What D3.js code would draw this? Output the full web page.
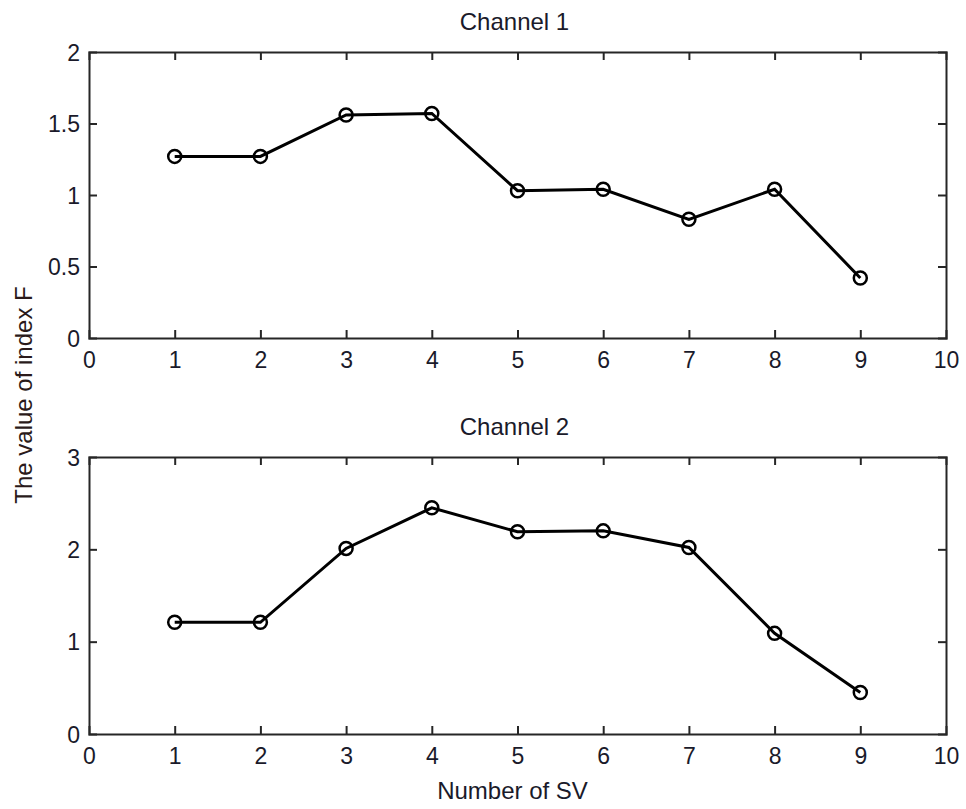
<!DOCTYPE html>
<html>
<head>
<meta charset="utf-8">
<script src="https://cdn.jsdelivr.net/npm/d3@7"></script>
<style>
  html, body { margin: 0; padding: 0; background: #fff; }
  svg { display: block; font-family: "Liberation Sans", Arial, sans-serif; }
</style>
</head>
<body>
<div id="chart"></div>
<script>
// data
const svIndex = [1, 2, 3, 4, 5, 6, 7, 8, 9];
const channel1 = [1.27, 1.27, 1.56, 1.57, 1.03, 1.04, 0.83, 1.04, 0.42];
const channel2 = [1.21, 1.21, 2.01, 2.45, 2.19, 2.20, 2.02, 1.09, 0.45];
const xTicks = [0, 1, 2, 3, 4, 5, 6, 7, 8, 9, 10];
const yTicks1 = [0, 0.5, 1, 1.5, 2];
const yTicks2 = [0, 1, 2, 3];

const W = 966, H = 809;
const LEFT = 89, RIGHT = 946;
const TEXT = '#1a1a2a';

const svg = d3.select('#chart').append('svg')
  .attr('width', W).attr('height', H);

const x = d3.scaleLinear().domain([0, 10]).range([LEFT, RIGHT]);

function panel(top, bottom, yMax, yTicks, values, title) {
  const y = d3.scaleLinear().domain([0, yMax]).range([bottom, top]);
  const g = svg.append('g');
  const tickLen = 8;

  // bottom axis (ticks inward)
  const xb = g.append('g').attr('transform', `translate(0,${bottom})`)
    .call(d3.axisBottom(x).tickValues(xTicks).tickSize(-tickLen).tickFormat(d3.format('d')));
  xb.selectAll('text').attr('y', 30).attr('dy', 0);
  // top axis, ticks only
  const xt = g.append('g').attr('transform', `translate(0,${top})`)
    .call(d3.axisTop(x).tickValues(xTicks).tickSize(-tickLen).tickFormat(''));
  // left axis
  const yl = g.append('g').attr('transform', `translate(${LEFT},0)`)
    .call(d3.axisLeft(y).tickValues(yTicks).tickSize(-tickLen).tickFormat(d => d));
  yl.selectAll('text').attr('x', -9).attr('dy', '0.36em');
  // right axis, ticks only
  const yr = g.append('g').attr('transform', `translate(${RIGHT},0)`)
    .call(d3.axisRight(y).tickValues(yTicks).tickSize(-tickLen).tickFormat(''));

  [xb, xt, yl, yr].forEach(a => {
    a.selectAll('.domain').attr('stroke', '#262626').attr('stroke-width', 2);
    a.selectAll('line').attr('stroke', '#262626').attr('stroke-width', 2);
    a.selectAll('text').attr('font-size', '23px').attr('fill', TEXT)
      .attr('font-family', '"Liberation Sans", Arial, sans-serif');
  });
  // drop end ticks that sit on the frame
  [xb, xt].forEach(a => a.selectAll('.tick line').filter(d => d === 0 || d === 10).remove());
  [yl, yr].forEach(a => a.selectAll('.tick line').filter(d => d === 0 || d === yMax).remove());

  const line = d3.line().x((d, i) => x(svIndex[i])).y(d => y(d));
  g.append('path').datum(values)
    .attr('d', line)
    .attr('fill', 'none')
    .attr('stroke', '#000')
    .attr('stroke-width', 3);

  g.selectAll('.pt').data(values).enter().append('circle')
    .attr('cx', (d, i) => x(svIndex[i]))
    .attr('cy', d => y(d))
    .attr('r', 6.5)
    .attr('fill', 'none')
    .attr('stroke', '#000')
    .attr('stroke-width', 2.5);

  svg.append('text')
    .attr('x', (LEFT + RIGHT) / 2 - 3)
    .attr('y', top - 22)
    .attr('text-anchor', 'middle')
    .attr('font-size', '24px')
    .attr('fill', TEXT)
    .text(title);
}

panel(52, 338, 2, yTicks1, channel1, 'Channel 1');
panel(457, 734, 3, yTicks2, channel2, 'Channel 2');

svg.append('text')
  .attr('x', (LEFT + RIGHT) / 2 - 5)
  .attr('y', 799)
  .attr('text-anchor', 'middle')
  .attr('font-size', '24px')
  .attr('fill', TEXT)
  .text('Number of SV');

svg.append('text')
  .attr('transform', 'translate(32,395) rotate(-90)')
  .attr('text-anchor', 'middle')
  .attr('font-size', '24px')
  .attr('fill', '#2a1a1a')
  .text('The value of index F');
</script>
</body>
</html>
